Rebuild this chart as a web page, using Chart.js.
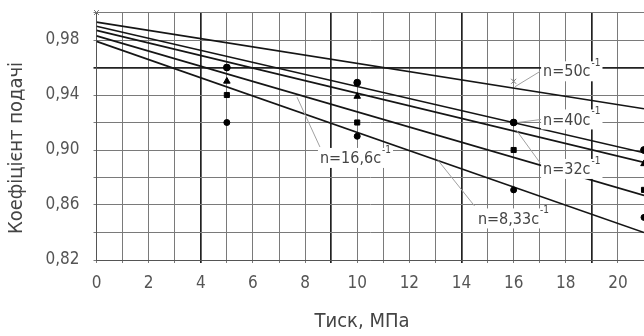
<!DOCTYPE html>
<html><head><meta charset="utf-8">
<script src="https://cdn.jsdelivr.net/npm/chart.js@4/dist/chart.umd.min.js"></script>
<style>html,body{margin:0;padding:0;background:#fff}canvas{display:block}</style>
</head>
<body><canvas id="c" width="644" height="336"></canvas>
<script>
// ---- data ----
const seriesLabels = ['n=50c', 'n=40c', 'n=32c', 'n=16,6c', 'n=8,33c'];
const lineX = [0, 21];
const line50 = [0.993, 0.930];
const line40 = [0.990, 0.898];
const line32 = [0.987, 0.891];
const line16 = [0.983, 0.867];
const line8  = [0.979, 0.840];
const ptsX50 = [0, 16],          ptsY50 = [1.000, 0.950];
const ptsX40 = [5, 10, 16, 21],  ptsY40 = [0.960, 0.949, 0.920, 0.900];
const ptsX32 = [5, 10, 21],      ptsY32 = [0.950, 0.939, 0.890];
const ptsX16 = [5, 10, 16, 21],  ptsY16 = [0.940, 0.920, 0.900, 0.871];
const ptsX8  = [5, 10, 16, 21],  ptsY8  = [0.920, 0.910, 0.871, 0.851];
const xTitle = 'Тиск, МПа';
const yTitle = 'Коефіцієнт подачі';
// annotation anchors (data coordinates)
const noteX = [17.13, 17.13, 17.13, 8.57, 14.63];
const noteY = [0.9565, 0.9215, 0.8855, 0.8935, 0.8495];
const ptrFromX = [16.05, 16.15, 16.1, 7.69, 13.1];
const ptrFromY = [0.946, 0.920, 0.9145, 0.9385, 0.8925];
const ptrToX = [17.0, 17.05, 17.02, 8.57, 14.5];
const ptrToY = [0.957, 0.9222, 0.8905, 0.9022, 0.8593];

const FAMILY = '"DejaVu Sans", "Liberation Sans", sans-serif';
const STRETCH = 'condensed';

function pts(xs, ys) { return xs.map((x, i) => ({x: x, y: ys[i]})); }
const lines = [line50, line40, line32, line16, line8];
const lineSets = lines.map((l, i) => ({
  type: 'line', label: seriesLabels[i], data: pts(lineX, l),
  borderColor: '#151515', borderWidth: 1.6, pointRadius: 0, fill: false, order: 2
}));
const markerSets = [
  {data: pts(ptsX50, ptsY50), pointStyle: 'crossRot', pointRadius: 3.5, borderColor: '#777', backgroundColor: '#777', pointBorderWidth: 1},
  {data: pts(ptsX40, ptsY40), pointStyle: 'circle', pointRadius: 3.4, borderColor: '#000', backgroundColor: '#000'},
  {data: pts(ptsX32, ptsY32), pointStyle: 'triangle', pointRadius: 3.8, borderColor: '#000', backgroundColor: '#000'},
  {data: pts(ptsX16, ptsY16), pointStyle: 'rect', pointRadius: 3.6, borderColor: '#000', backgroundColor: '#000'},
  {data: pts(ptsX8, ptsY8), pointStyle: 'circle', pointRadius: 3, borderColor: '#000', backgroundColor: '#000'}
].map(d => Object.assign({type: 'scatter', showLine: false, clip: false, order: 1}, d));

function fontStr(size) { return STRETCH + ' ' + size + 'px ' + FAMILY; }

const notesPlugin = {
  id: 'notes',
  afterDatasetsDraw(chart) {
    const ctx = chart.ctx, xs = chart.scales.x, ys = chart.scales.y;
    ctx.save();
    seriesLabels.forEach((t, i) => {
      ctx.strokeStyle = '#a0a0a0'; ctx.lineWidth = 1;
      ctx.beginPath();
      ctx.moveTo(xs.getPixelForValue(ptrFromX[i]), ys.getPixelForValue(ptrFromY[i]));
      ctx.lineTo(xs.getPixelForValue(ptrToX[i]), ys.getPixelForValue(ptrToY[i]));
      ctx.stroke();
      const px = xs.getPixelForValue(noteX[i]), py = ys.getPixelForValue(noteY[i]);
      ctx.font = fontStr(16);
      const w1 = ctx.measureText(t).width;
      ctx.font = fontStr(10);
      const w2 = ctx.measureText('-1').width;
      ctx.fillStyle = '#fff';
      ctx.fillRect(px - 2, py - 11, w1 + w2 + 5, 20);
      ctx.fillStyle = '#444';
      ctx.textBaseline = 'middle'; ctx.textAlign = 'left';
      ctx.font = fontStr(16);
      ctx.fillText(t, px, py);
      ctx.font = fontStr(10);
      ctx.fillText('-1', px + w1 + 1, py - 9);
    });
    ctx.restore();
  },
  afterDraw(chart) {
    const ctx = chart.ctx;
    ctx.save();
    ctx.fillStyle = '#444';
    ctx.font = fontStr(20);
    ctx.textAlign = 'center'; ctx.textBaseline = 'middle';
    ctx.fillText(xTitle, 362, 322);
    ctx.translate(17, 148);
    ctx.rotate(-Math.PI / 2);
    ctx.fillText(yTitle, 0, 0);
    ctx.restore();
  }
};

const thickX = v => [4, 9, 14, 19].includes(Math.round(v));
const thickY = v => Math.round(v * 100) === 96;

new Chart(document.getElementById('c'), {
  data: {datasets: lineSets.concat(markerSets)},
  options: {
    responsive: false, animation: false,
    layout: {autoPadding: false, padding: {top: 12.5, left: 0, right: 0, bottom: 0}},
    plugins: {legend: {display: false}, tooltip: {enabled: false}},
    scales: {
      x: {
        type: 'linear', min: 0, max: 21,
        afterFit: s => { s.height = 76; s.paddingLeft = 0; s.paddingRight = 0; },
        border: {color: '#555', width: 1},
        grid: {
          color: c => thickX(c.tick.value) ? '#222' : '#7a7a7a',
          lineWidth: c => thickX(c.tick.value) ? 1.7 : 1,
          tickLength: 3
        },
        ticks: {
          stepSize: 1, autoSkip: false, maxRotation: 0, padding: 10,
          color: '#555', font: {family: FAMILY, size: 17, weight: STRETCH},
          callback: v => (Math.round(v) % 2 === 0 ? String(Math.round(v)) : '')
        }
      },
      y: {
        type: 'linear', min: 0.82, max: 1.0,
        afterFit: s => { s.width = 96.5; s.paddingTop = 0; s.paddingBottom = 0; },
        border: {color: '#555', width: 1},
        grid: {
          color: c => thickY(c.tick.value) ? '#222' : '#7a7a7a',
          lineWidth: c => thickY(c.tick.value) ? 1.7 : 1,
          tickLength: 3
        },
        ticks: {
          stepSize: 0.02, autoSkip: false, padding: 14,
          color: '#555', font: {family: FAMILY, size: 17, weight: STRETCH},
          callback: v => { const k = Math.round(v * 100); return (k % 4 === 2) ? (k / 100).toFixed(2).replace('.', ',') : ''; }
        }
      }
    }
  },
  plugins: [notesPlugin]
});
</script>
</body></html>
